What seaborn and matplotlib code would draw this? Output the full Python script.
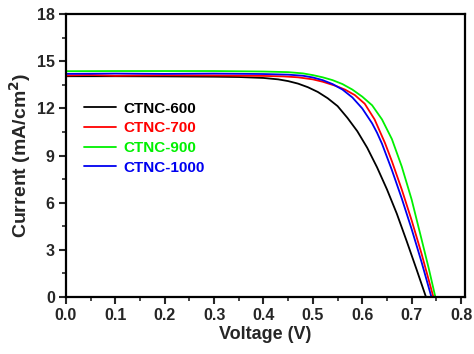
import matplotlib
matplotlib.use("Agg")
import matplotlib.pyplot as plt
from matplotlib.ticker import MultipleLocator
import seaborn as sns
import pandas as pd

# ---- data ----
v_600 = [0.0, 0.1, 0.2, 0.3, 0.35, 0.40, 0.43, 0.45, 0.47, 0.49, 0.51, 0.53, 0.55, 0.57,
         0.59, 0.61, 0.63, 0.65, 0.67, 0.69, 0.71, 0.729]
j_600 = [14.05, 14.05, 14.04, 14.02, 14.0, 13.94, 13.85, 13.74, 13.58, 13.35, 13.05, 12.65,
         12.15, 11.4, 10.55, 9.5, 8.25, 6.85, 5.3, 3.55, 1.75, 0.0]

v_700 = [0.0, 0.05, 0.1, 0.15, 0.2, 0.3, 0.4, 0.44, 0.47, 0.50, 0.52, 0.545, 0.565, 0.585,
         0.605, 0.625, 0.646, 0.66, 0.68, 0.70, 0.72, 0.744]
j_700 = [14.1, 14.13, 14.08, 14.1, 14.11, 14.1, 14.07, 14.04, 13.98, 13.85, 13.7, 13.45, 13.2,
         12.85, 12.3, 11.3, 9.8, 8.64, 6.84, 4.88, 2.76, 0.0]

v_900 = [0.0, 0.1, 0.2, 0.3, 0.40, 0.45, 0.48, 0.50, 0.52, 0.54, 0.56, 0.58, 0.60, 0.62,
         0.64, 0.66, 0.68, 0.70, 0.72, 0.735, 0.748]
j_900 = [14.37, 14.38, 14.38, 14.38, 14.35, 14.31, 14.23, 14.12, 13.98, 13.8, 13.55, 13.2,
         12.75, 12.2, 11.3, 10.05, 8.3, 6.2, 3.68, 1.77, 0.0]

v_1000 = [0.0, 0.1, 0.2, 0.3, 0.40, 0.45, 0.48, 0.50, 0.52, 0.54, 0.56, 0.58, 0.60, 0.62,
          0.63, 0.64, 0.66, 0.68, 0.70, 0.72, 0.740]
j_1000 = [14.2, 14.22, 14.2, 14.22, 14.19, 14.15, 14.08, 13.97, 13.8, 13.55, 13.2, 12.7,
          12.0, 11.05, 10.45, 9.75, 8.08, 6.27, 4.32, 2.23, 0.0]

samples = ["CTNC-600", "CTNC-700", "CTNC-900", "CTNC-1000"]
colors = {"CTNC-600": "#000000", "CTNC-700": "#ff0000", "CTNC-900": "#00f000", "CTNC-1000": "#0000f0"}

x_ticks = [0.0, 0.1, 0.2, 0.3, 0.4, 0.5, 0.6, 0.7, 0.8]
y_ticks = [0, 3, 6, 9, 12, 15, 18]

frames = []
for name, v, j in [("CTNC-600", v_600, j_600), ("CTNC-700", v_700, j_700),
                   ("CTNC-900", v_900, j_900), ("CTNC-1000", v_1000, j_1000)]:
    frames.append(pd.DataFrame({"Voltage": v, "Current": j, "Sample": name}))
df = pd.concat(frames, ignore_index=True)

sns.set_theme(style="ticks")
plt.rcParams["font.family"] = ["Liberation Sans", "DejaVu Sans"]
plt.rcParams["font.weight"] = "bold"

fig = plt.figure(figsize=(4.74, 3.54), dpi=100)
ax = fig.add_axes([0.139, 0.161, 0.842, 0.799])

sns.lineplot(data=df, x="Voltage", y="Current", hue="Sample", hue_order=samples,
             palette=colors, estimator=None, sort=False, linewidth=1.3, ax=ax)

ax.set_xlim(0.0, 0.808)
ax.set_ylim(0, 18)
ax.set_xticks(x_ticks)
ax.set_xticklabels([f"{t:.1f}" for t in x_ticks])
ax.set_yticks(y_ticks)
ax.set_yticklabels([str(t) for t in y_ticks])
ax.xaxis.set_minor_locator(MultipleLocator(0.05))
ax.yaxis.set_minor_locator(MultipleLocator(1.5))

ax.tick_params(axis="both", which="major", direction="out", length=5, width=1.5,
               labelsize=11.5, pad=3)
ax.tick_params(axis="both", which="minor", direction="out", length=3, width=1.2)
for lab in ax.get_xticklabels() + ax.get_yticklabels():
    lab.set_fontweight("bold")

for sp in ax.spines.values():
    sp.set_linewidth(1.6)
    sp.set_color("black")

ax.set_xlabel("Voltage (V)", fontsize=13, fontweight="bold", labelpad=2)
ax.set_ylabel("Current (mA/cm$^\\mathbf{2}$)", fontsize=14, fontweight="bold", labelpad=3)

leg = ax.legend(loc="upper left", bbox_to_anchor=(0.045, 0.69), frameon=False,
                handlelength=2.1, handletextpad=0.5, labelspacing=0.37,
                borderpad=0, borderaxespad=0, prop={"weight": "bold", "size": 11})
for txt, name in zip(leg.get_texts(), samples):
    txt.set_color(colors[name])
for line in leg.get_lines():
    line.set_linewidth(1.3)

fig.savefig("out.png", dpi=100)
